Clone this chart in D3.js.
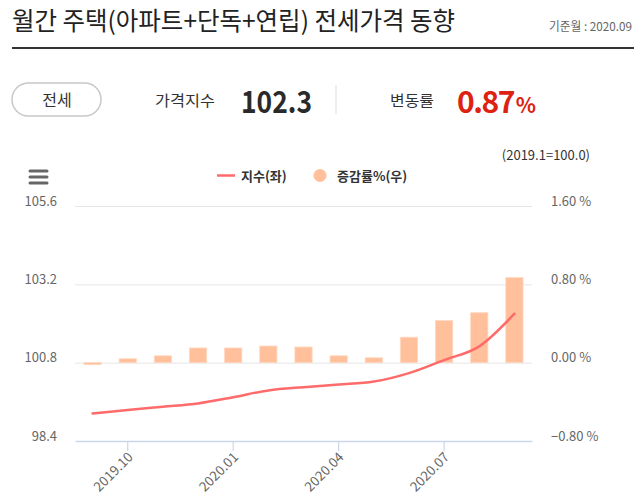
<!DOCTYPE html>
<html><head><meta charset="utf-8">
<script src="https://cdn.jsdelivr.net/npm/d3@7"></script>
<style>
html,body{margin:0;padding:0;background:#fff;}
svg{display:block;font-family:"Noto Sans CJK KR","Noto Sans",sans-serif;}
</style></head>
<body>
<svg id="c" width="640" height="503"></svg>
<script>
const categories = ["2019.09","2019.10","2019.11","2019.12","2020.01","2020.02","2020.03","2020.04","2020.05","2020.06","2020.07","2020.08","2020.09"];
const indexValues = [99.24, 99.35, 99.45, 99.55, 99.74, 99.95, 100.05, 100.13, 100.22, 100.48, 100.88, 101.30, 102.30];
const changeRates = [-0.02, 0.04, 0.07, 0.15, 0.15, 0.17, 0.16, 0.07, 0.05, 0.26, 0.43, 0.51, 0.87];
const leftTicks = [98.4, 100.8, 103.2, 105.6];
const rightTicks = [-0.8, 0, 0.8, 1.6];
const xTickLabels = ["2019.10","2020.01","2020.04","2020.07"];
const titleText = "월간 주택(아파트+단독+연립) 전세가격 동향";
const baseMonthText = "기준월 : 2020.09";
const tabText = "전세";
const indexLabel = "가격지수";
const indexLatest = "102.3";
const changeLabel = "변동률";
const changeLatest = "0.87";
const baseNote = "(2019.1=100.0)";
const legendNames = ["지수(좌)", "증감률%(우)"];

const svg = d3.select("#c");
const L = 75, R = 532, T = 206, B = 441;

// Header
svg.append("text").attr("x", 12).attr("y", 30).attr("font-size", 25).attr("fill", "#222")
  .attr("textLength", 443).attr("lengthAdjust", "spacingAndGlyphs").text(titleText);
svg.append("text").attr("x", 632).attr("y", 31).attr("font-size", 12).attr("fill", "#666")
  .attr("text-anchor", "end").attr("textLength", 83).attr("lengthAdjust", "spacingAndGlyphs").text(baseMonthText);
svg.append("rect").attr("x", 12).attr("y", 47).attr("width", 622).attr("height", 2).attr("fill", "#333");

// Summary row
svg.append("rect").attr("x", 12).attr("y", 83).attr("width", 89).attr("height", 33).attr("rx", 16.5)
  .attr("fill", "#fff").attr("stroke", "#c8c8c8").attr("stroke-width", 1.5);
svg.append("text").attr("x", 57).attr("y", 105.5).attr("font-size", 16).attr("fill", "#333")
  .attr("text-anchor", "middle").text(tabText);
svg.append("text").attr("x", 155).attr("y", 106).attr("font-size", 15).attr("fill", "#333")
  .attr("textLength", 60).attr("lengthAdjust", "spacingAndGlyphs").text(indexLabel);
svg.append("text").attr("x", 241).attr("y", 113).attr("font-size", 31).attr("font-weight", "bold").attr("fill", "#2a2a2a")
  .attr("textLength", 71).attr("lengthAdjust", "spacingAndGlyphs").text(indexLatest);
svg.append("rect").attr("x", 335.5).attr("y", 85).attr("width", 1).attr("height", 29).attr("fill", "#ddd");
svg.append("text").attr("x", 390).attr("y", 106).attr("font-size", 15).attr("fill", "#333")
  .attr("textLength", 44).attr("lengthAdjust", "spacingAndGlyphs").text(changeLabel);
const chNum = svg.append("text").attr("x", 457).attr("y", 113).attr("font-size", 30).attr("font-weight", "bold")
  .attr("fill", "#dd2211").attr("letter-spacing", -1.5).text(changeLatest);
const numW = chNum.node().getComputedTextLength();
svg.append("text").attr("x", 457 + numW + 2).attr("y", 113).attr("font-size", 21).attr("font-weight", "bold")
  .attr("fill", "#dd2211").text("%");

// Note + menu icon
svg.append("text").attr("x", 590).attr("y", 159.5).attr("font-size", 13).attr("fill", "#333")
  .attr("text-anchor", "end").text(baseNote);
[169.5, 175.5, 181.5].forEach(y => svg.append("rect").attr("x", 28.5).attr("y", y).attr("width", 20).attr("height", 3).attr("rx", 1.5).attr("fill", "#666"));

// Legend
svg.append("line").attr("x1", 217).attr("x2", 235).attr("y1", 175.5).attr("y2", 175.5).attr("stroke", "#ff6a6a").attr("stroke-width", 2.5);
svg.append("text").attr("x", 241).attr("y", 180.5).attr("font-size", 13).attr("font-weight", "bold").attr("fill", "#333").text(legendNames[0]);
svg.append("circle").attr("cx", 320).attr("cy", 175.5).attr("r", 6.5).attr("fill", "#ffc09b");
svg.append("text").attr("x", 337).attr("y", 180.5).attr("font-size", 13).attr("font-weight", "bold").attr("fill", "#333").text(legendNames[1]);

// Scales
const x = d3.scaleBand().domain(categories).range([L, R]).padding(0);
const yL = d3.scaleLinear().domain([98.4, 105.6]).range([B, T]);
const yR = d3.scaleLinear().domain([-0.8, 1.6]).range([B, T]);

// Grid
const grid = svg.append("g").attr("transform", `translate(${L},0)`)
  .call(d3.axisLeft(yL).tickValues(leftTicks.filter(v => v !== 98.4)).tickSize(-(R - L)).tickFormat(""));
grid.select(".domain").remove();
grid.selectAll("line").attr("stroke", "#e6e6e6");

// Left axis labels
const la = svg.append("g").attr("transform", `translate(${L},0)`)
  .call(d3.axisLeft(yL).tickValues(leftTicks).tickSize(0).tickPadding(18).tickFormat(d3.format(".1f")));
la.select(".domain").remove();
la.selectAll("text").attr("font-size", 13).attr("fill", "#666").attr("font-family", "'Noto Sans CJK KR',sans-serif").attr("y", -5);

// Right axis labels
const ra = svg.append("g").attr("transform", `translate(${R},0)`)
  .call(d3.axisRight(yR).tickValues(rightTicks).tickSize(0).tickPadding(19)
    .tickFormat(d => (d < 0 ? "−" + d3.format(".2f")(-d) : d3.format(".2f")(d)) + " %"));
ra.select(".domain").remove();
ra.selectAll("text").attr("font-size", 13).attr("fill", "#666").attr("font-family", "'Noto Sans CJK KR',sans-serif").attr("y", -5);

// Bars
const bw = x.bandwidth() * 0.49;
svg.append("g").selectAll("rect").data(changeRates).join("rect")
  .attr("x", (d, i) => x(categories[i]) + (x.bandwidth() - bw) / 2)
  .attr("width", bw)
  .attr("y", d => Math.min(yR(d), yR(0)))
  .attr("height", d => Math.abs(yR(d) - yR(0)))
  .attr("fill", "#ffc09b")
  .attr("stroke", "#ffd8c0").attr("stroke-width", 0.8);

// Line
const line = d3.line().x((d, i) => x(categories[i]) + x.bandwidth() / 2).y(d => yL(d)).curve(d3.curveMonotoneX);
svg.append("path").datum(indexValues).attr("d", line).attr("fill", "none")
  .attr("stroke", "#ff6a6a").attr("stroke-width", 2.5).attr("stroke-linecap", "round");

// X axis
const xa = svg.append("g").attr("transform", `translate(0,${B})`)
  .call(d3.axisBottom(x).tickValues(xTickLabels).tickSize(10).tickSizeOuter(0).tickPadding(4));
xa.select(".domain").attr("stroke", "#ccd6eb").attr("stroke-width", 1.5);
xa.selectAll(".tick line").attr("stroke", "#ccd6eb").attr("stroke-width", 1.2);
xa.selectAll("text").attr("font-size", 13.5).attr("fill", "#666").attr("font-family", "'Noto Sans CJK KR',sans-serif")
  .attr("text-anchor", "end").attr("dy", 0).attr("y", 0)
  .attr("transform", "translate(6,17) rotate(-45)");
</script>
</body></html>
